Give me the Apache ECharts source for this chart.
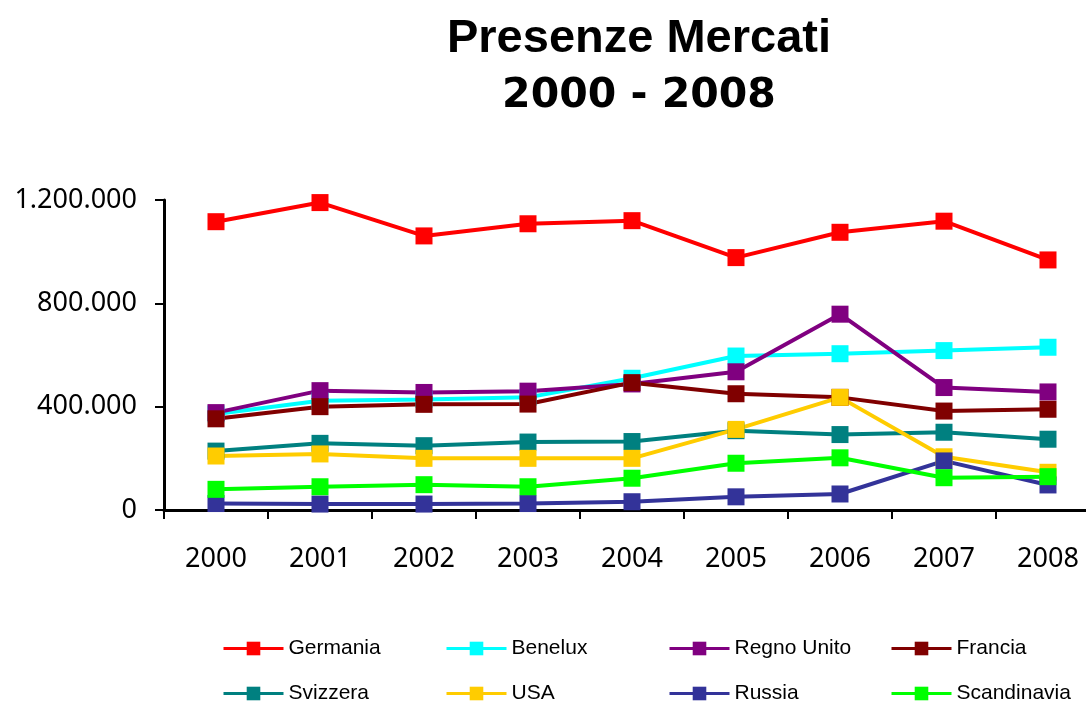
<!DOCTYPE html>
<html>
<head>
<meta charset="utf-8">
<title>Presenze Mercati 2000 - 2008</title>
<script src="https://cdn.jsdelivr.net/npm/echarts@6/dist/echarts.min.js"></script>
<style>
    html, body { margin: 0; padding: 0; background: #fff; }
    #main { width: 1086px; height: 704px; }
</style>
</head>
<body>
<div id="main"></div>
<script>
// anni sull'asse x
var anni = ['2000', '2001', '2002', '2003', '2004', '2005', '2006', '2007', '2008'];

// presenze per mercato
var germania    = [1116000, 1190000, 1061000, 1108000, 1120000, 977000, 1075000, 1118000, 968000];
var benelux     = [372000, 423000, 428000, 436000, 510000, 596000, 605000, 617000, 630000];
var regnoUnito  = [377000, 462000, 455000, 460000, 488000, 535000, 758000, 474000, 457000];
var francia     = [353000, 400000, 409000, 410000, 493000, 450000, 436000, 383000, 390000];
var svizzera    = [228000, 258000, 249000, 263000, 265000, 307000, 292000, 301000, 274000];
var usa         = [209000, 217000, 200000, 200000, 200000, 312000, 436000, 206000, 146000];
var russia      = [25000, 23000, 23000, 25000, 32000, 51000, 62000, 190000, 97000];
var scandinavia = [80000, 90000, 98000, 90000, 123000, 181000, 202000, 125000, 129000];

var yTicks = [0, 400000, 800000, 1200000];

var nomi = ['Germania', 'Benelux', 'Regno Unito', 'Francia', 'Svizzera', 'USA', 'Russia', 'Scandinavia'];
var dati = [germania, benelux, regnoUnito, francia, svizzera, usa, russia, scandinavia];
var colori = ['#ff0000', '#00ffff', '#800080', '#800000', '#008080', '#ffcc00', '#333399', '#00ff00'];

// griglia della legenda: 4 colonne x 2 righe
var colLegenda = [222, 445, 668, 890];
var rigaLegenda = [650, 695];

// separatore delle migliaia con il punto
function formatta(v) {
    return String(v).replace(/\B(?=(\d{3})+(?!\d))/g, '.');
}

var myChart = echarts.init(document.getElementById('main'));

var serie = nomi.map(function (n, i) {
    return {
        name: n,
        type: 'line',
        data: dati[i],
        symbol: 'rect',
        symbolSize: 17,
        lineStyle: { width: 4, color: colori[i] },
        itemStyle: { color: colori[i] },
        emphasis: { disabled: true }
    };
});

// una legenda per voce, cosi le colonne restano allineate
var legende = nomi.map(function (n, i) {
    return {
        data: [n],
        left: colLegenda[i % 4],
        top: rigaLegenda[Math.floor(i / 4)] - 12,
        padding: 0,
        itemWidth: 60,
        itemHeight: 17,
        lineStyle: { width: 3 },
        selectedMode: false,
        textStyle: { fontFamily: '"Liberation Sans", Arial, sans-serif', fontSize: 21, color: '#000' }
    };
});

var option = {
    animation: false,
    backgroundColor: '#fff',
    title: {
        text: '{a|Presenze Mercati}\n{b|2000 - 2008}',
        left: 639,
        top: 11,
        padding: 0,
        textAlign: 'center',
        textStyle: {
            rich: {
                a: { fontFamily: '"Liberation Sans", Arial, sans-serif', fontWeight: 'bold', fontSize: 47, lineHeight: 56, color: '#000' },
                b: { fontFamily: '"DejaVu Sans", sans-serif', fontWeight: 'bold', fontSize: 41, lineHeight: 58, color: '#000' }
            }
        }
    },
    legend: legende,
    grid: { left: 164, top: 200, width: 936, height: 310, outerBoundsMode: 'none' },
    xAxis: {
        type: 'category',
        data: anni,
        boundaryGap: true,
        axisLine: { lineStyle: { color: '#000', width: 3 } },
        axisTick: { show: true, length: 9, lineStyle: { color: '#000', width: 2 } },
        axisLabel: { margin: 36, color: '#000', fontFamily: 'Noto Sans', fontSize: 27 }
    },
    yAxis: {
        type: 'value',
        min: yTicks[0],
        max: yTicks[yTicks.length - 1],
        interval: yTicks[1] - yTicks[0],
        splitLine: { show: false },
        axisLine: { show: true, lineStyle: { color: '#000', width: 3 } },
        axisTick: { show: true, length: 9, lineStyle: { color: '#000', width: 2 } },
        axisLabel: { margin: 27, padding: [5, 0, 0, 0], color: '#000', fontFamily: 'Noto Sans', fontSize: 27, formatter: formatta }
    },
    series: serie
};

myChart.setOption(option);
</script>
</body>
</html>
